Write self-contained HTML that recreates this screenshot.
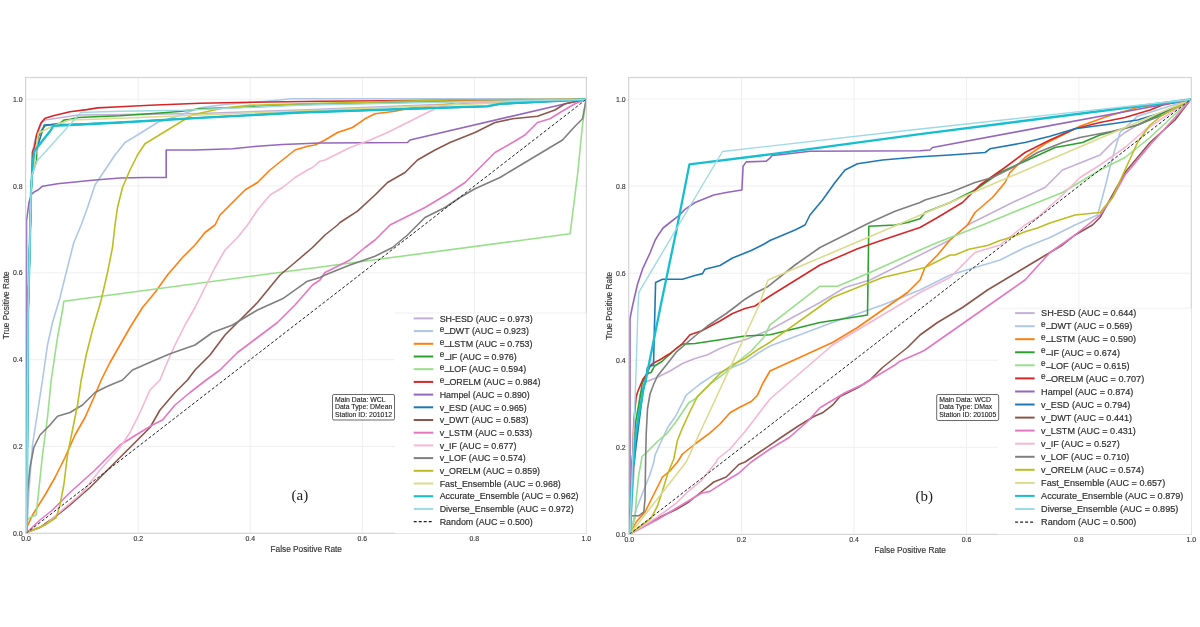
<!DOCTYPE html>
<html><head><meta charset="utf-8"><style>
html,body{margin:0;padding:0;background:#fff;}
body{width:1200px;height:627px;overflow:hidden;}
svg{display:block;filter:blur(0.3px);}
</style></head><body>
<svg width="1200" height="627" viewBox="0 0 1200 627" font-family='"Liberation Sans", sans-serif'>
<rect width="1200" height="627" fill="#fff"/>
<line x1="138.2" y1="77.5" x2="138.2" y2="533.3" stroke="#efefef" stroke-width="1"/>
<line x1="250.2" y1="77.5" x2="250.2" y2="533.3" stroke="#efefef" stroke-width="1"/>
<line x1="362.3" y1="77.5" x2="362.3" y2="533.3" stroke="#efefef" stroke-width="1"/>
<line x1="474.3" y1="77.5" x2="474.3" y2="533.3" stroke="#efefef" stroke-width="1"/>
<line x1="26.1" y1="446.5" x2="586.4" y2="446.5" stroke="#efefef" stroke-width="1"/>
<line x1="26.1" y1="359.7" x2="586.4" y2="359.7" stroke="#efefef" stroke-width="1"/>
<line x1="26.1" y1="272.8" x2="586.4" y2="272.8" stroke="#efefef" stroke-width="1"/>
<line x1="26.1" y1="186.0" x2="586.4" y2="186.0" stroke="#efefef" stroke-width="1"/>
<line x1="26.1" y1="99.2" x2="586.4" y2="99.2" stroke="#efefef" stroke-width="1"/>
<polyline fill="none" stroke="#c5b0d5" stroke-width="1.6" stroke-linejoin="round" points="26.5,533.0 27.0,485.0 28.0,315.0 30.8,205.0 31.0,192.0 32.0,175.0 32.5,152.0 35.0,140.0 41.7,122.5 45.0,120.0 61.7,117.5 78.3,115.0 120.0,114.6 200.0,113.5 300.0,110.0 450.0,104.0 586.0,99.5"/>
<polyline fill="none" stroke="#aec7e8" stroke-width="1.6" stroke-linejoin="round" points="26.8,532.5 28.8,492.5 32.5,445.0 37.5,412.5 42.5,380.0 47.5,345.0 52.5,322.5 60.0,297.5 66.2,272.5 73.8,242.5 81.2,225.0 87.5,207.5 95.0,185.0 105.0,170.0 115.0,155.0 125.0,142.5 137.5,135.0 158.3,122.0 175.0,117.0 200.0,107.8 225.0,104.5 266.7,101.2 291.7,98.7 300.0,98.7 425.0,98.7 586.2,98.7"/>
<polyline fill="none" stroke="#ff7f0e" stroke-width="1.6" stroke-linejoin="round" points="26.8,527.5 32.5,515.0 45.0,495.0 55.0,477.5 65.0,457.5 75.0,435.0 85.0,417.5 95.0,395.0 101.2,380.0 110.0,362.5 120.0,345.0 130.0,327.5 142.5,307.5 155.0,292.5 167.5,275.0 182.5,257.5 195.0,245.0 205.0,232.5 215.0,225.0 220.0,215.0 232.5,202.5 245.0,190.0 257.5,182.5 270.0,170.0 282.5,160.0 295.0,150.0 307.5,146.2 315.0,145.0 320.0,142.5 325.0,140.0 337.5,132.5 352.5,127.5 365.0,118.8 375.0,113.8 395.0,111.2 412.5,107.5 475.0,102.0 586.2,99.2"/>
<polyline fill="none" stroke="#2ca02c" stroke-width="1.6" stroke-linejoin="round" points="26.5,533.0 27.0,485.0 28.0,315.0 30.8,205.0 31.0,192.0 32.0,175.0 36.5,161.0 36.7,147.0 38.3,136.7 41.7,130.0 45.0,125.8 53.3,124.2 60.0,123.3 64.2,120.0 70.0,119.2 78.3,117.5 95.0,116.7 120.0,115.8 163.3,112.8 181.7,111.2 200.0,108.7 250.0,107.0 300.0,104.5 450.0,101.5 586.0,99.5"/>
<polyline fill="none" stroke="#98df8a" stroke-width="1.6" stroke-linejoin="round" points="26.8,532.5 27.5,520.0 30.0,517.5 36.2,515.0 38.8,490.0 42.5,455.0 47.5,417.5 51.2,380.0 57.5,337.5 63.0,307.5 63.8,301.2 570.0,233.8 571.2,225.0 577.5,175.0 582.5,125.0 586.2,99.2"/>
<polyline fill="none" stroke="#d62728" stroke-width="1.6" stroke-linejoin="round" points="26.5,533.0 27.0,485.0 28.0,315.0 30.8,205.0 31.0,192.0 32.0,175.0 32.5,152.0 34.6,147.0 36.7,134.2 40.8,123.3 45.0,118.3 53.3,115.8 70.0,111.7 86.7,109.6 97.5,107.9 120.0,106.7 150.0,105.3 200.0,103.3 250.0,102.3 320.0,101.2 450.0,100.3 586.0,99.5"/>
<polyline fill="none" stroke="#9467bd" stroke-width="1.6" stroke-linejoin="round" points="26.5,533.0 26.5,225.0 26.5,221.0 29.0,202.5 31.5,194.0 33.8,192.5 34.0,192.0 38.0,190.0 42.5,186.2 57.5,183.8 82.5,181.2 95.0,180.0 120.0,178.0 145.0,177.5 166.2,177.5 166.2,150.0 195.0,150.0 232.5,148.8 257.5,146.2 282.5,144.5 320.0,143.0 325.0,143.0 407.5,142.5 410.0,140.0 560.0,105.0 586.2,99.2"/>
<polyline fill="none" stroke="#1f77b4" stroke-width="1.6" stroke-linejoin="round" points="26.5,533.0 27.0,485.0 28.0,315.0 30.8,205.0 31.0,192.0 32.0,175.0 33.0,161.0 44.2,125.0 53.3,124.6 70.0,124.6 120.0,122.5 200.0,117.8 300.0,112.5 487.0,106.5 500.0,104.0 586.0,99.5"/>
<polyline fill="none" stroke="#8c564b" stroke-width="1.6" stroke-linejoin="round" points="26.8,532.5 40.0,527.5 57.5,515.0 70.0,505.0 90.0,487.5 107.5,470.0 125.0,452.5 137.5,440.0 150.0,427.5 160.0,410.0 175.0,392.5 187.5,380.0 195.0,370.0 210.0,355.0 225.0,335.0 240.0,320.0 257.5,302.5 280.0,275.0 295.0,262.5 312.5,247.5 320.0,240.0 325.0,235.0 337.5,225.0 340.0,222.5 357.5,211.2 375.0,195.0 387.5,182.5 405.0,172.5 417.5,160.0 435.0,150.0 450.0,142.5 475.0,132.5 495.0,122.5 512.5,118.8 537.5,116.2 555.0,110.0 565.0,103.8 586.2,99.2"/>
<polyline fill="none" stroke="#e377c2" stroke-width="1.6" stroke-linejoin="round" points="26.8,532.5 40.0,520.0 52.5,510.0 70.0,492.5 95.0,470.0 120.0,445.0 140.0,432.5 152.5,425.0 162.5,420.0 175.0,405.0 190.0,392.5 206.2,380.0 220.0,370.0 237.5,352.5 257.5,337.5 277.5,322.5 295.0,305.0 312.5,285.0 320.0,280.0 325.0,272.5 337.5,266.2 350.0,260.0 365.0,247.5 375.0,240.0 390.0,225.0 400.0,220.0 425.0,207.5 450.0,192.5 465.0,182.5 480.0,167.5 495.0,152.5 512.5,142.5 525.0,135.0 537.5,122.5 550.0,118.8 560.0,112.5 575.0,103.8 586.2,99.2"/>
<polyline fill="none" stroke="#f7b6d2" stroke-width="1.6" stroke-linejoin="round" points="26.8,532.5 45.0,525.0 65.0,507.5 82.5,492.5 100.0,470.0 120.0,447.5 130.0,432.5 140.0,412.5 150.0,390.0 160.0,380.0 165.0,367.5 175.0,345.0 185.0,325.0 195.0,307.5 205.0,287.5 215.0,267.5 225.0,250.0 237.5,237.5 247.5,225.0 257.5,210.0 270.0,195.0 282.5,187.5 295.0,177.5 307.5,170.0 312.5,167.5 320.0,161.2 325.0,160.0 350.0,147.5 370.0,140.0 387.5,132.5 412.5,120.0 437.5,107.5 462.5,102.5 586.2,99.2"/>
<polyline fill="none" stroke="#7f7f7f" stroke-width="1.6" stroke-linejoin="round" points="26.8,532.5 27.5,492.5 30.0,467.5 33.8,447.5 40.0,435.0 50.0,425.0 57.5,416.2 70.0,412.5 82.5,405.0 95.0,392.5 107.5,386.2 122.5,380.0 132.5,370.0 152.5,361.2 170.0,353.8 195.0,345.0 212.5,332.5 232.5,325.0 257.5,310.0 282.5,298.8 307.5,281.2 320.0,277.5 325.0,275.0 350.0,265.0 375.0,256.2 392.5,247.5 407.5,235.0 417.5,225.0 425.0,217.5 445.0,207.5 460.0,197.5 475.0,188.8 500.0,177.5 525.0,162.5 550.0,147.5 562.5,140.0 575.0,126.2 582.5,118.8 586.2,99.2"/>
<polyline fill="none" stroke="#bcbd22" stroke-width="1.6" stroke-linejoin="round" points="26.8,532.5 32.5,530.0 45.0,525.0 56.2,517.5 60.0,505.0 63.8,485.0 67.5,455.0 72.5,430.0 77.5,405.0 81.2,380.0 86.2,355.0 92.5,330.0 101.2,300.0 107.5,272.5 112.5,247.5 115.0,225.0 117.5,207.5 122.5,187.5 130.0,170.0 137.5,155.0 145.0,143.8 191.7,115.3 208.3,111.2 225.0,107.8 250.0,105.3 300.0,103.7 450.0,100.0 586.2,99.2"/>
<polyline fill="none" stroke="#dbdb8d" stroke-width="1.6" stroke-linejoin="round" points="26.5,533.0 27.0,485.0 28.0,315.0 30.8,205.0 31.0,192.0 32.0,175.0 34.0,165.0 38.3,133.3 53.3,125.8 70.0,120.0 93.3,119.2 120.0,118.3 300.0,111.0 450.0,105.0 586.0,99.5"/>
<polyline fill="none" stroke="#17becf" stroke-width="2.3" stroke-linejoin="round" points="26.5,533.0 27.0,485.0 28.0,315.0 30.8,205.0 31.0,192.0 32.0,175.0 33.0,161.0 34.0,151.5 51.0,130.0 53.3,125.8 70.0,125.0 120.0,122.5 200.0,117.8 300.0,112.5 487.5,106.2 500.0,103.8 586.0,99.5"/>
<polyline fill="none" stroke="#9edae5" stroke-width="1.4" stroke-linejoin="round" points="26.5,533.0 27.0,485.0 28.0,315.0 30.8,205.0 31.0,192.0 32.0,175.0 37.0,161.0 65.0,130.0 80.8,112.5 120.0,111.2 183.0,110.3 300.0,105.3 450.0,102.0 586.0,99.5"/>
<line x1="26.1" y1="533.3" x2="586.4" y2="99.2" stroke="#222" stroke-width="1" stroke-dasharray="3,2"/>
<rect x="25.6" y="77.5" width="560.8" height="455.8" fill="none" stroke="#d4d4d4" stroke-width="1.2"/>
<text x="26.1" y="540.7" text-anchor="middle" font-size="6.9" fill="#3a3a3a" stroke="#3a3a3a" stroke-width="0.15">0.0</text>
<text x="22.6" y="535.8" text-anchor="end" font-size="6.9" fill="#3a3a3a" stroke="#3a3a3a" stroke-width="0.15">0.0</text>
<text x="138.2" y="540.7" text-anchor="middle" font-size="6.9" fill="#3a3a3a" stroke="#3a3a3a" stroke-width="0.15">0.2</text>
<text x="22.6" y="449.0" text-anchor="end" font-size="6.9" fill="#3a3a3a" stroke="#3a3a3a" stroke-width="0.15">0.2</text>
<text x="250.2" y="540.7" text-anchor="middle" font-size="6.9" fill="#3a3a3a" stroke="#3a3a3a" stroke-width="0.15">0.4</text>
<text x="22.6" y="362.2" text-anchor="end" font-size="6.9" fill="#3a3a3a" stroke="#3a3a3a" stroke-width="0.15">0.4</text>
<text x="362.3" y="540.7" text-anchor="middle" font-size="6.9" fill="#3a3a3a" stroke="#3a3a3a" stroke-width="0.15">0.6</text>
<text x="22.6" y="275.3" text-anchor="end" font-size="6.9" fill="#3a3a3a" stroke="#3a3a3a" stroke-width="0.15">0.6</text>
<text x="474.3" y="540.7" text-anchor="middle" font-size="6.9" fill="#3a3a3a" stroke="#3a3a3a" stroke-width="0.15">0.8</text>
<text x="22.6" y="188.5" text-anchor="end" font-size="6.9" fill="#3a3a3a" stroke="#3a3a3a" stroke-width="0.15">0.8</text>
<text x="586.4" y="540.7" text-anchor="middle" font-size="6.9" fill="#3a3a3a" stroke="#3a3a3a" stroke-width="0.15">1.0</text>
<text x="22.6" y="101.7" text-anchor="end" font-size="6.9" fill="#3a3a3a" stroke="#3a3a3a" stroke-width="0.15">1.0</text>
<text x="306.2" y="551.6" text-anchor="middle" font-size="8.3" fill="#333" stroke="#333" stroke-width="0.15">False Positive Rate</text>
<text transform="translate(8.6,305.4) rotate(-90)" text-anchor="middle" font-size="8.3" fill="#333" stroke="#333" stroke-width="0.15">True Positive Rate</text>
<rect x="395.0" y="313.0" width="191.4" height="220.3" fill="#fff"/>
<line x1="395.0" y1="313.0" x2="586.4" y2="313.0" stroke="#ebebeb" stroke-width="0.8"/>
<line x1="413.7" y1="318.4" x2="433.2" y2="318.4" stroke="#c5b0d5" stroke-width="2"/>
<text x="439.7" y="321.6" font-size="8.90" fill="#2e2e2e" stroke="#2e2e2e" stroke-width="0.18">SH-ESD (AUC = 0.973)</text>
<line x1="413.7" y1="331.1" x2="433.2" y2="331.1" stroke="#aec7e8" stroke-width="2"/>
<text x="439.7" y="334.3" font-size="8.90" fill="#2e2e2e" stroke="#2e2e2e" stroke-width="0.18"><tspan font-size="8.2" dy="-2.3">e</tspan><tspan dx="0.5" dy="0.1">_</tspan><tspan dx="-0.3" dy="2.2">DWT (AUC = 0.923)</tspan></text>
<line x1="413.7" y1="343.8" x2="433.2" y2="343.8" stroke="#ff7f0e" stroke-width="2"/>
<text x="439.7" y="347.0" font-size="8.90" fill="#2e2e2e" stroke="#2e2e2e" stroke-width="0.18"><tspan font-size="8.2" dy="-2.3">e</tspan><tspan dx="0.5" dy="0.1">_</tspan><tspan dx="-0.3" dy="2.2">LSTM (AUC = 0.753)</tspan></text>
<line x1="413.7" y1="356.5" x2="433.2" y2="356.5" stroke="#2ca02c" stroke-width="2"/>
<text x="439.7" y="359.7" font-size="8.90" fill="#2e2e2e" stroke="#2e2e2e" stroke-width="0.18"><tspan font-size="8.2" dy="-2.3">e</tspan><tspan dx="0.5" dy="0.1">_</tspan><tspan dx="-0.3" dy="2.2">IF (AUC = 0.976)</tspan></text>
<line x1="413.7" y1="369.2" x2="433.2" y2="369.2" stroke="#98df8a" stroke-width="2"/>
<text x="439.7" y="372.4" font-size="8.90" fill="#2e2e2e" stroke="#2e2e2e" stroke-width="0.18"><tspan font-size="8.2" dy="-2.3">e</tspan><tspan dx="0.5" dy="0.1">_</tspan><tspan dx="-0.3" dy="2.2">LOF (AUC = 0.594)</tspan></text>
<line x1="413.7" y1="381.9" x2="433.2" y2="381.9" stroke="#d62728" stroke-width="2"/>
<text x="439.7" y="385.1" font-size="8.90" fill="#2e2e2e" stroke="#2e2e2e" stroke-width="0.18"><tspan font-size="8.2" dy="-2.3">e</tspan><tspan dx="0.5" dy="0.1">_</tspan><tspan dx="-0.3" dy="2.2">ORELM (AUC = 0.984)</tspan></text>
<line x1="413.7" y1="394.6" x2="433.2" y2="394.6" stroke="#9467bd" stroke-width="2"/>
<text x="439.7" y="397.8" font-size="8.90" fill="#2e2e2e" stroke="#2e2e2e" stroke-width="0.18">Hampel (AUC = 0.890)</text>
<line x1="413.7" y1="407.3" x2="433.2" y2="407.3" stroke="#1f77b4" stroke-width="2"/>
<text x="439.7" y="410.5" font-size="8.90" fill="#2e2e2e" stroke="#2e2e2e" stroke-width="0.18">v_ESD (AUC = 0.965)</text>
<line x1="413.7" y1="420.0" x2="433.2" y2="420.0" stroke="#8c564b" stroke-width="2"/>
<text x="439.7" y="423.2" font-size="8.90" fill="#2e2e2e" stroke="#2e2e2e" stroke-width="0.18">v_DWT (AUC = 0.583)</text>
<line x1="413.7" y1="432.7" x2="433.2" y2="432.7" stroke="#e377c2" stroke-width="2"/>
<text x="439.7" y="435.9" font-size="8.90" fill="#2e2e2e" stroke="#2e2e2e" stroke-width="0.18">v_LSTM (AUC = 0.533)</text>
<line x1="413.7" y1="445.4" x2="433.2" y2="445.4" stroke="#f7b6d2" stroke-width="2"/>
<text x="439.7" y="448.6" font-size="8.90" fill="#2e2e2e" stroke="#2e2e2e" stroke-width="0.18">v_IF (AUC = 0.677)</text>
<line x1="413.7" y1="458.1" x2="433.2" y2="458.1" stroke="#7f7f7f" stroke-width="2"/>
<text x="439.7" y="461.3" font-size="8.90" fill="#2e2e2e" stroke="#2e2e2e" stroke-width="0.18">v_LOF (AUC = 0.574)</text>
<line x1="413.7" y1="470.8" x2="433.2" y2="470.8" stroke="#bcbd22" stroke-width="2"/>
<text x="439.7" y="474.0" font-size="8.90" fill="#2e2e2e" stroke="#2e2e2e" stroke-width="0.18">v_ORELM (AUC = 0.859)</text>
<line x1="413.7" y1="483.5" x2="433.2" y2="483.5" stroke="#dbdb8d" stroke-width="2"/>
<text x="439.7" y="486.7" font-size="8.90" fill="#2e2e2e" stroke="#2e2e2e" stroke-width="0.18">Fast_Ensemble (AUC = 0.968)</text>
<line x1="413.7" y1="496.2" x2="433.2" y2="496.2" stroke="#17becf" stroke-width="2"/>
<text x="439.7" y="499.4" font-size="8.90" fill="#2e2e2e" stroke="#2e2e2e" stroke-width="0.18">Accurate_Ensemble (AUC = 0.962)</text>
<line x1="413.7" y1="508.9" x2="433.2" y2="508.9" stroke="#9edae5" stroke-width="2"/>
<text x="439.7" y="512.1" font-size="8.90" fill="#2e2e2e" stroke="#2e2e2e" stroke-width="0.18">Diverse_Ensemble (AUC = 0.972)</text>
<line x1="413.7" y1="521.6" x2="433.2" y2="521.6" stroke="#222" stroke-width="1.2" stroke-dasharray="3,2"/>
<text x="439.7" y="524.8" font-size="8.90" fill="#2e2e2e" stroke="#2e2e2e" stroke-width="0.18">Random (AUC = 0.500)</text>
<rect x="332.5" y="394.5" width="62.0" height="25.5" rx="1.5" fill="#fff" stroke="#444" stroke-width="0.8"/>
<text x="335.0" y="401.8" font-size="6.9" fill="#222" stroke="#222" stroke-width="0.12">Main Data: WCL</text>
<text x="335.0" y="409.4" font-size="6.9" fill="#222" stroke="#222" stroke-width="0.12">Data Type: DMean</text>
<text x="335.0" y="417.1" font-size="6.9" fill="#222" stroke="#222" stroke-width="0.12">Station ID: 201012</text>
<text x="291.5" y="500.0" font-family="Liberation Serif, serif" font-size="15" fill="#222">(a)</text>
<line x1="741.6" y1="77.5" x2="741.6" y2="534.4" stroke="#efefef" stroke-width="1"/>
<line x1="854.0" y1="77.5" x2="854.0" y2="534.4" stroke="#efefef" stroke-width="1"/>
<line x1="966.5" y1="77.5" x2="966.5" y2="534.4" stroke="#efefef" stroke-width="1"/>
<line x1="1078.9" y1="77.5" x2="1078.9" y2="534.4" stroke="#efefef" stroke-width="1"/>
<line x1="629.2" y1="447.3" x2="1191.3" y2="447.3" stroke="#efefef" stroke-width="1"/>
<line x1="629.2" y1="360.2" x2="1191.3" y2="360.2" stroke="#efefef" stroke-width="1"/>
<line x1="629.2" y1="273.2" x2="1191.3" y2="273.2" stroke="#efefef" stroke-width="1"/>
<line x1="629.2" y1="186.1" x2="1191.3" y2="186.1" stroke="#efefef" stroke-width="1"/>
<line x1="629.2" y1="99.0" x2="1191.3" y2="99.0" stroke="#efefef" stroke-width="1"/>
<polyline fill="none" stroke="#c5b0d5" stroke-width="1.6" stroke-linejoin="round" points="630.0,534.0 634.0,470.0 640.0,395.0 645.0,382.2 657.5,377.2 670.0,371.0 682.5,363.5 695.0,358.5 707.5,354.8 720.0,348.5 732.5,343.5 745.0,339.8 757.5,334.8 770.0,329.8 820.0,302.5 845.0,287.5 870.0,280.0 920.0,255.0 925.0,252.5 950.0,240.0 967.5,225.0 982.5,217.5 1012.5,202.5 1045.0,187.5 1062.5,170.0 1100.0,155.0 1112.5,142.5 1125.0,132.5 1137.5,125.0 1190.7,99.5"/>
<polyline fill="none" stroke="#aec7e8" stroke-width="1.6" stroke-linejoin="round" points="630.0,534.0 636.2,509.5 642.5,493.2 650.0,474.5 653.8,462.0 655.0,455.2 660.0,444.0 667.5,427.8 676.2,415.2 686.2,395.2 700.0,384.0 713.8,374.8 732.5,367.2 745.0,362.2 757.5,353.5 770.0,346.0 832.5,322.5 857.5,313.8 882.5,305.0 920.0,290.0 925.0,287.5 950.0,275.0 975.0,267.5 1000.0,260.0 1025.0,247.5 1050.0,237.5 1075.0,225.0 1097.5,215.0 1105.0,187.5 1112.5,157.5 1120.0,132.5 1137.5,116.2 1190.7,99.5"/>
<polyline fill="none" stroke="#ff7f0e" stroke-width="1.6" stroke-linejoin="round" points="630.0,534.0 636.2,522.0 645.0,512.0 652.5,497.0 657.5,487.0 662.5,477.0 670.0,470.8 677.5,462.0 682.5,454.0 695.0,444.0 710.0,432.8 720.0,424.0 730.0,412.8 738.8,407.8 751.2,401.5 757.5,395.2 762.5,384.0 770.0,371.0 832.5,342.5 857.5,327.5 882.5,310.0 907.5,292.5 920.0,280.0 925.0,267.5 937.5,255.0 950.0,240.0 967.5,225.0 975.0,212.5 992.5,197.5 1005.0,182.5 1010.0,172.5 1025.0,157.5 1045.0,143.8 1062.5,135.0 1080.0,126.2 1107.5,116.2 1137.5,107.5 1190.7,99.5"/>
<polyline fill="none" stroke="#2ca02c" stroke-width="1.6" stroke-linejoin="round" points="630.0,534.0 632.0,462.0 636.0,420.0 641.0,392.0 642.0,384.0 646.0,375.0 649.0,373.0 651.0,372.5 653.0,369.0 654.5,366.0 657.0,364.5 662.0,361.5 663.5,360.0 676.2,348.5 682.5,344.1 695.0,343.5 720.0,339.8 745.0,336.0 770.0,334.8 820.0,322.5 867.5,315.0 868.8,226.2 895.0,225.0 907.5,222.5 920.0,218.8 925.0,212.5 950.0,202.5 975.0,190.0 1000.0,172.5 1025.0,161.2 1055.0,147.5 1082.5,142.5 1100.0,135.0 1137.5,125.0 1190.7,99.5"/>
<polyline fill="none" stroke="#98df8a" stroke-width="1.6" stroke-linejoin="round" points="630.0,534.0 635.0,518.2 636.2,499.5 638.8,474.5 641.2,462.0 641.9,456.5 645.0,454.0 657.5,441.5 667.5,432.8 676.2,421.5 688.8,402.8 695.0,399.0 710.0,384.0 726.2,372.2 738.8,361.0 751.2,351.0 763.8,337.2 770.0,324.8 820.0,286.2 837.5,286.2 870.0,272.5 920.0,250.0 937.5,242.5 982.5,225.0 1025.0,207.5 1062.5,192.5 1100.0,170.0 1125.0,157.5 1150.0,137.5 1190.7,99.5"/>
<polyline fill="none" stroke="#d62728" stroke-width="1.6" stroke-linejoin="round" points="630.0,534.0 632.5,462.0 633.8,421.5 636.2,396.5 638.0,391.0 643.0,379.0 647.0,374.0 648.5,370.0 650.0,366.0 652.0,364.0 654.5,362.5 659.5,360.0 670.0,353.5 682.5,343.5 690.0,334.8 701.2,331.0 720.0,321.0 732.5,313.5 745.0,308.5 755.0,306.0 770.0,296.0 820.0,265.0 857.5,248.8 882.5,240.0 920.0,227.5 937.5,217.5 962.5,202.5 980.0,185.0 1005.0,167.5 1025.0,152.5 1050.0,140.0 1075.0,128.8 1100.0,122.5 1125.0,117.5 1150.0,110.0 1162.5,105.0 1190.7,99.5"/>
<polyline fill="none" stroke="#9467bd" stroke-width="1.6" stroke-linejoin="round" points="630.0,534.0 630.0,384.0 630.0,343.5 630.0,318.5 632.5,306.0 637.5,284.2 642.5,269.2 650.0,253.0 655.0,240.5 658.8,234.2 663.1,228.0 670.0,222.5 678.8,215.6 685.0,209.4 695.0,202.5 707.5,197.5 713.8,195.0 726.2,192.5 741.9,190.0 743.1,166.2 746.2,161.9 766.2,161.2 770.0,158.1 772.0,155.5 782.5,154.5 810.0,151.2 920.0,150.8 930.0,150.0 932.5,147.5 1190.7,99.5"/>
<polyline fill="none" stroke="#1f77b4" stroke-width="1.6" stroke-linejoin="round" points="630.0,534.0 630.0,515.8 633.0,470.0 643.0,391.0 645.5,380.0 647.5,367.5 653.5,365.0 655.0,306.0 655.6,282.4 662.5,279.2 682.5,279.2 695.0,275.5 702.5,273.6 705.0,269.2 720.0,265.5 732.5,258.0 738.8,255.5 751.2,250.5 763.8,244.2 770.0,240.5 795.0,230.0 805.0,225.0 810.0,215.0 822.5,200.0 835.0,182.5 845.0,170.0 857.5,163.8 882.5,160.0 920.0,156.8 950.0,155.0 985.0,152.5 990.0,148.8 1025.0,142.5 1050.0,136.2 1075.0,128.8 1112.5,123.8 1137.5,120.0 1162.5,112.5 1190.7,99.5"/>
<polyline fill="none" stroke="#8c564b" stroke-width="1.6" stroke-linejoin="round" points="630.0,534.0 657.5,518.2 676.2,509.5 688.8,502.0 701.2,492.0 713.8,482.0 726.2,477.0 738.8,464.5 745.0,462.0 770.0,445.2 782.5,436.5 797.5,426.5 813.8,416.5 822.5,412.8 832.5,405.2 840.0,396.5 857.5,387.8 863.8,384.0 870.0,380.0 882.5,367.5 907.5,347.5 912.5,342.5 920.0,335.0 937.5,322.5 962.5,307.5 987.5,290.0 1012.5,275.0 1037.5,260.0 1062.5,245.0 1075.0,235.0 1092.5,225.0 1100.0,217.5 1112.5,195.0 1125.0,172.5 1150.0,142.5 1175.0,120.0 1190.7,99.5"/>
<polyline fill="none" stroke="#e377c2" stroke-width="1.6" stroke-linejoin="round" points="630.0,534.0 657.5,519.5 676.2,508.2 688.8,500.8 701.2,493.2 710.0,491.4 726.2,480.8 738.8,473.2 751.2,462.0 770.0,449.0 788.8,437.8 807.5,421.5 820.0,407.8 832.5,400.2 845.0,392.8 863.8,384.0 870.0,380.0 895.0,365.0 900.0,361.2 920.0,352.5 925.0,350.0 950.0,332.5 975.0,315.0 1000.0,297.5 1025.0,280.0 1050.0,252.5 1075.0,235.0 1087.5,225.0 1100.0,215.0 1112.5,197.5 1125.0,175.0 1150.0,145.0 1175.0,117.5 1190.7,99.5"/>
<polyline fill="none" stroke="#f7b6d2" stroke-width="1.6" stroke-linejoin="round" points="630.0,534.0 657.5,517.0 676.2,503.2 688.8,490.8 701.2,480.8 716.2,462.0 717.5,459.0 730.0,449.0 745.0,431.5 757.5,415.2 770.0,399.0 832.5,345.0 857.5,330.0 882.5,315.0 907.5,300.0 920.0,292.5 925.0,290.0 950.0,277.5 975.0,252.5 1000.0,245.0 1025.0,225.0 1037.5,217.5 1062.5,195.0 1080.0,177.5 1100.0,165.0 1125.0,147.5 1145.0,130.0 1190.7,99.5"/>
<polyline fill="none" stroke="#7f7f7f" stroke-width="1.6" stroke-linejoin="round" points="630.0,534.0 630.0,515.8 638.8,515.8 643.8,512.0 645.0,499.5 645.6,462.0 646.2,434.0 647.5,409.0 650.0,394.0 653.8,384.0 657.5,376.0 667.5,363.5 676.2,352.2 695.0,336.0 707.5,326.0 726.2,313.5 736.2,306.0 745.0,299.2 755.0,293.0 767.5,286.8 795.0,265.0 820.0,247.5 845.0,235.0 865.0,225.0 870.0,222.5 895.0,211.2 920.0,202.5 925.0,200.0 950.0,192.5 975.0,182.5 992.5,177.5 1012.5,167.5 1037.5,152.5 1062.5,142.5 1080.0,137.5 1112.5,131.2 1137.5,125.0 1162.5,115.0 1190.7,99.5"/>
<polyline fill="none" stroke="#bcbd22" stroke-width="1.6" stroke-linejoin="round" points="630.0,534.0 651.2,518.2 657.5,505.8 662.5,490.8 667.5,474.5 672.5,462.0 673.8,459.0 677.5,440.2 682.5,427.8 690.0,411.5 697.5,396.5 710.0,384.0 720.0,373.5 732.5,364.8 745.0,358.5 757.5,349.8 770.0,342.2 832.5,297.5 857.5,287.5 882.5,277.5 920.0,268.8 925.0,267.5 950.0,255.0 955.0,255.0 968.8,249.2 987.5,245.5 1000.0,240.5 1012.5,236.8 1025.0,231.8 1037.5,228.0 1050.0,223.0 1075.0,215.0 1100.0,212.5 1112.5,197.5 1125.0,170.0 1137.5,142.5 1150.0,125.0 1162.5,115.0 1190.7,99.5"/>
<polyline fill="none" stroke="#dbdb8d" stroke-width="1.6" stroke-linejoin="round" points="630.0,534.0 686.2,462.0 722.5,384.0 758.8,306.0 768.0,280.0 890.0,228.0 1190.7,99.5"/>
<polyline fill="none" stroke="#17becf" stroke-width="2.3" stroke-linejoin="round" points="630.0,534.0 633.1,462.0 633.8,462.0 635.0,440.2 638.8,415.2 644.4,384.0 645.0,384.0 660.6,306.0 676.9,228.0 689.4,164.4 770.0,154.4 920.0,134.2 1190.7,99.5"/>
<polyline fill="none" stroke="#9edae5" stroke-width="1.4" stroke-linejoin="round" points="630.0,534.0 632.5,462.0 635.6,384.0 638.1,306.0 638.8,292.4 676.9,228.0 722.5,151.5 900.0,131.2 1190.7,99.5"/>
<line x1="629.2" y1="534.4" x2="1191.3" y2="99.0" stroke="#222" stroke-width="1" stroke-dasharray="3,2"/>
<rect x="628.7" y="77.5" width="562.6" height="456.9" fill="none" stroke="#d4d4d4" stroke-width="1.2"/>
<text x="629.2" y="541.8" text-anchor="middle" font-size="6.9" fill="#3a3a3a" stroke="#3a3a3a" stroke-width="0.15">0.0</text>
<text x="625.7" y="536.9" text-anchor="end" font-size="6.9" fill="#3a3a3a" stroke="#3a3a3a" stroke-width="0.15">0.0</text>
<text x="741.6" y="541.8" text-anchor="middle" font-size="6.9" fill="#3a3a3a" stroke="#3a3a3a" stroke-width="0.15">0.2</text>
<text x="625.7" y="449.8" text-anchor="end" font-size="6.9" fill="#3a3a3a" stroke="#3a3a3a" stroke-width="0.15">0.2</text>
<text x="854.0" y="541.8" text-anchor="middle" font-size="6.9" fill="#3a3a3a" stroke="#3a3a3a" stroke-width="0.15">0.4</text>
<text x="625.7" y="362.7" text-anchor="end" font-size="6.9" fill="#3a3a3a" stroke="#3a3a3a" stroke-width="0.15">0.4</text>
<text x="966.5" y="541.8" text-anchor="middle" font-size="6.9" fill="#3a3a3a" stroke="#3a3a3a" stroke-width="0.15">0.6</text>
<text x="625.7" y="275.7" text-anchor="end" font-size="6.9" fill="#3a3a3a" stroke="#3a3a3a" stroke-width="0.15">0.6</text>
<text x="1078.9" y="541.8" text-anchor="middle" font-size="6.9" fill="#3a3a3a" stroke="#3a3a3a" stroke-width="0.15">0.8</text>
<text x="625.7" y="188.6" text-anchor="end" font-size="6.9" fill="#3a3a3a" stroke="#3a3a3a" stroke-width="0.15">0.8</text>
<text x="1191.3" y="541.8" text-anchor="middle" font-size="6.9" fill="#3a3a3a" stroke="#3a3a3a" stroke-width="0.15">1.0</text>
<text x="625.7" y="101.5" text-anchor="end" font-size="6.9" fill="#3a3a3a" stroke="#3a3a3a" stroke-width="0.15">1.0</text>
<text x="910.2" y="552.7" text-anchor="middle" font-size="8.3" fill="#333" stroke="#333" stroke-width="0.15">False Positive Rate</text>
<text transform="translate(611.7,305.9) rotate(-90)" text-anchor="middle" font-size="8.3" fill="#333" stroke="#333" stroke-width="0.15">True Positive Rate</text>
<rect x="998.0" y="308.2" width="193.3" height="226.2" fill="#fff"/>
<line x1="998.0" y1="308.2" x2="1191.3" y2="308.2" stroke="#ebebeb" stroke-width="0.8"/>
<line x1="1015.1" y1="313.1" x2="1034.6" y2="313.1" stroke="#c5b0d5" stroke-width="2"/>
<text x="1041.1" y="316.3" font-size="9.10" fill="#2e2e2e" stroke="#2e2e2e" stroke-width="0.18">SH-ESD (AUC = 0.644)</text>
<line x1="1015.1" y1="326.2" x2="1034.6" y2="326.2" stroke="#aec7e8" stroke-width="2"/>
<text x="1041.1" y="329.4" font-size="9.10" fill="#2e2e2e" stroke="#2e2e2e" stroke-width="0.18"><tspan font-size="8.2" dy="-2.3">e</tspan><tspan dx="0.5" dy="0.1">_</tspan><tspan dx="-0.3" dy="2.2">DWT (AUC = 0.569)</tspan></text>
<line x1="1015.1" y1="339.2" x2="1034.6" y2="339.2" stroke="#ff7f0e" stroke-width="2"/>
<text x="1041.1" y="342.4" font-size="9.10" fill="#2e2e2e" stroke="#2e2e2e" stroke-width="0.18"><tspan font-size="8.2" dy="-2.3">e</tspan><tspan dx="0.5" dy="0.1">_</tspan><tspan dx="-0.3" dy="2.2">LSTM (AUC = 0.590)</tspan></text>
<line x1="1015.1" y1="352.3" x2="1034.6" y2="352.3" stroke="#2ca02c" stroke-width="2"/>
<text x="1041.1" y="355.5" font-size="9.10" fill="#2e2e2e" stroke="#2e2e2e" stroke-width="0.18"><tspan font-size="8.2" dy="-2.3">e</tspan><tspan dx="0.5" dy="0.1">_</tspan><tspan dx="-0.3" dy="2.2">IF (AUC = 0.674)</tspan></text>
<line x1="1015.1" y1="365.3" x2="1034.6" y2="365.3" stroke="#98df8a" stroke-width="2"/>
<text x="1041.1" y="368.5" font-size="9.10" fill="#2e2e2e" stroke="#2e2e2e" stroke-width="0.18"><tspan font-size="8.2" dy="-2.3">e</tspan><tspan dx="0.5" dy="0.1">_</tspan><tspan dx="-0.3" dy="2.2">LOF (AUC = 0.615)</tspan></text>
<line x1="1015.1" y1="378.4" x2="1034.6" y2="378.4" stroke="#d62728" stroke-width="2"/>
<text x="1041.1" y="381.6" font-size="9.10" fill="#2e2e2e" stroke="#2e2e2e" stroke-width="0.18"><tspan font-size="8.2" dy="-2.3">e</tspan><tspan dx="0.5" dy="0.1">_</tspan><tspan dx="-0.3" dy="2.2">ORELM (AUC = 0.707)</tspan></text>
<line x1="1015.1" y1="391.5" x2="1034.6" y2="391.5" stroke="#9467bd" stroke-width="2"/>
<text x="1041.1" y="394.7" font-size="9.10" fill="#2e2e2e" stroke="#2e2e2e" stroke-width="0.18">Hampel (AUC = 0.874)</text>
<line x1="1015.1" y1="404.5" x2="1034.6" y2="404.5" stroke="#1f77b4" stroke-width="2"/>
<text x="1041.1" y="407.7" font-size="9.10" fill="#2e2e2e" stroke="#2e2e2e" stroke-width="0.18">v_ESD (AUC = 0.794)</text>
<line x1="1015.1" y1="417.6" x2="1034.6" y2="417.6" stroke="#8c564b" stroke-width="2"/>
<text x="1041.1" y="420.8" font-size="9.10" fill="#2e2e2e" stroke="#2e2e2e" stroke-width="0.18">v_DWT (AUC = 0.441)</text>
<line x1="1015.1" y1="430.6" x2="1034.6" y2="430.6" stroke="#e377c2" stroke-width="2"/>
<text x="1041.1" y="433.8" font-size="9.10" fill="#2e2e2e" stroke="#2e2e2e" stroke-width="0.18">v_LSTM (AUC = 0.431)</text>
<line x1="1015.1" y1="443.7" x2="1034.6" y2="443.7" stroke="#f7b6d2" stroke-width="2"/>
<text x="1041.1" y="446.9" font-size="9.10" fill="#2e2e2e" stroke="#2e2e2e" stroke-width="0.18">v_IF (AUC = 0.527)</text>
<line x1="1015.1" y1="456.8" x2="1034.6" y2="456.8" stroke="#7f7f7f" stroke-width="2"/>
<text x="1041.1" y="460.0" font-size="9.10" fill="#2e2e2e" stroke="#2e2e2e" stroke-width="0.18">v_LOF (AUC = 0.710)</text>
<line x1="1015.1" y1="469.8" x2="1034.6" y2="469.8" stroke="#bcbd22" stroke-width="2"/>
<text x="1041.1" y="473.0" font-size="9.10" fill="#2e2e2e" stroke="#2e2e2e" stroke-width="0.18">v_ORELM (AUC = 0.574)</text>
<line x1="1015.1" y1="482.9" x2="1034.6" y2="482.9" stroke="#dbdb8d" stroke-width="2"/>
<text x="1041.1" y="486.1" font-size="9.10" fill="#2e2e2e" stroke="#2e2e2e" stroke-width="0.18">Fast_Ensemble (AUC = 0.657)</text>
<line x1="1015.1" y1="495.9" x2="1034.6" y2="495.9" stroke="#17becf" stroke-width="2"/>
<text x="1041.1" y="499.1" font-size="9.10" fill="#2e2e2e" stroke="#2e2e2e" stroke-width="0.18">Accurate_Ensemble (AUC = 0.879)</text>
<line x1="1015.1" y1="509.0" x2="1034.6" y2="509.0" stroke="#9edae5" stroke-width="2"/>
<text x="1041.1" y="512.2" font-size="9.10" fill="#2e2e2e" stroke="#2e2e2e" stroke-width="0.18">Diverse_Ensemble (AUC = 0.895)</text>
<line x1="1015.1" y1="522.1" x2="1034.6" y2="522.1" stroke="#222" stroke-width="1.2" stroke-dasharray="3,2"/>
<text x="1041.1" y="525.3" font-size="9.10" fill="#2e2e2e" stroke="#2e2e2e" stroke-width="0.18">Random (AUC = 0.500)</text>
<rect x="936.7" y="394.5" width="62.0" height="26.0" rx="1.5" fill="#fff" stroke="#444" stroke-width="0.8"/>
<text x="939.2" y="401.8" font-size="6.9" fill="#222" stroke="#222" stroke-width="0.12">Main Data: WCD</text>
<text x="939.2" y="409.4" font-size="6.9" fill="#222" stroke="#222" stroke-width="0.12">Data Type: DMax</text>
<text x="939.2" y="417.1" font-size="6.9" fill="#222" stroke="#222" stroke-width="0.12">Station ID: 201005</text>
<text x="915.5" y="501.0" font-family="Liberation Serif, serif" font-size="15" fill="#222">(b)</text>
</svg>
</body></html>
